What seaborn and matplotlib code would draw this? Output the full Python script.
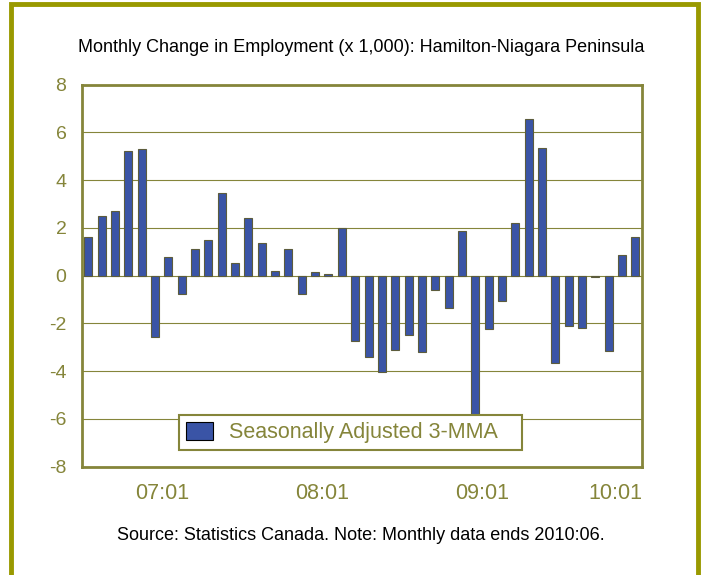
import pandas as pd
import matplotlib.pyplot as plt
import seaborn as sns
from matplotlib.patches import Rectangle

# Monthly data, 2007:01 - 2010:06 (3-month moving average, x 1,000)
months = list(pd.period_range('2007-01', periods=42, freq='M').strftime('%y:%m'))
changes = [
    1.63, 2.50, 2.71, 5.24, 5.30, -2.55, 0.77, -0.78, 1.10, 1.49, 3.47, 0.52,
    2.40, 1.39, 0.21, 1.13, -0.78, 0.14, 0.07, 1.98, -2.73, -3.39, -4.04, -3.12,
    -2.50, -3.19, -0.61, -1.35, 1.87, -5.85, -2.23, -1.07, 2.19, 6.56, 5.34, -3.67,
    -2.09, -2.20, -0.05, -3.17, 0.86, 1.63,
]
tick_labels = ['07:01', '08:01', '09:01', '10:01']
label_pos = [5.5, 17.5, 29.5, 39.5]
series_name = 'Seasonally Adjusted 3-MMA'

olive = '#85853a'
border = '#999900'
bar_blue = '#3a54a6'

df = pd.DataFrame({'month': months, 'change': changes})

sns.set_style('white')
plt.rcParams['font.family'] = ['Liberation Sans', 'DejaVu Sans']
plt.rcParams['axes.unicode_minus'] = False

fig = plt.figure(figsize=(7.02, 5.75), dpi=100)
ax = fig.add_axes([0.1164, 0.1883, 0.7981, 0.6644])

sns.barplot(data=df, x='month', y='change', order=months, color=bar_blue,
            saturation=1, width=0.6, edgecolor='#5c5c3c', linewidth=0.8,
            ax=ax, zorder=3, label=series_name)

ax.set_ylim(-8, 8)
ax.set_xlim(-0.5, len(months) - 0.5)
ax.set_yticks(range(-8, 9, 2))
ax.grid(axis='y', color=olive, linewidth=0.8, zorder=0)
ax.set_xlabel('')
ax.set_ylabel('')

for s in ax.spines.values():
    s.set_color(olive)
    s.set_linewidth(2)
    s.set_visible(True)

ax.set_xticks([-0.5 + 12 * k for k in range(4)])
ax.set_xticklabels([])
ax.set_xticks([k - 0.5 for k in range(len(months) + 1)], minor=True)
ax.tick_params(axis='x', which='major', length=9, width=1.5, color=olive, direction='out')
ax.tick_params(axis='x', which='minor', length=5, width=1.2, color=olive, direction='out')
ax.tick_params(axis='y', which='major', length=5, width=1.2, color=olive, direction='out',
               labelsize=14, labelcolor=olive, pad=6)

for pos, lab in zip(label_pos, tick_labels):
    ax.text(pos, -8.7, lab, ha='center', va='top', fontsize=15.5, color=olive)

leg = ax.legend(loc='lower left', bbox_to_anchor=(0.174, 0.044, 0.611, 0.09),
                mode='expand', frameon=True, fancybox=False, fontsize=15.5,
                handlelength=1.25, handleheight=0.95, handletextpad=0.75,
                borderpad=0.3, borderaxespad=0, framealpha=1, labelcolor=olive)
leg.get_frame().set_edgecolor(olive)
leg.get_frame().set_linewidth(1.5)
leg.set_zorder(5)
for h in leg.legend_handles:
    h.set_edgecolor('black')

fig.text(0.514, 0.918, 'Monthly Change in Employment (x 1,000): Hamilton-Niagara Peninsula',
         ha='center', va='center', fontsize=13, color='black')
fig.text(0.514, 0.068, 'Source: Statistics Canada. Note: Monthly data ends 2010:06.',
         ha='center', va='center', fontsize=13, color='black')

fig.patches.append(Rectangle((0.016, -0.02), 0.978, 1.013, transform=fig.transFigure,
                             fill=False, edgecolor=border, linewidth=3.5))

fig.savefig('out.png', dpi=100)
